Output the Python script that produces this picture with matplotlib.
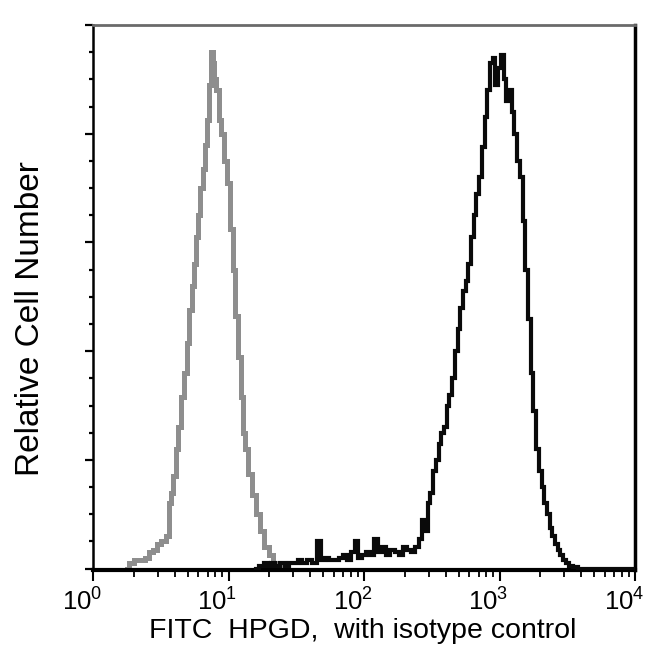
import matplotlib
matplotlib.use("Agg")
import matplotlib.pyplot as plt
import matplotlib.transforms as mtransforms
from matplotlib.ticker import LogLocator, MultipleLocator, NullFormatter, LogFormatterMathtext
import numpy as np

plt.rcParams['font.family'] = ['Liberation Sans', 'DejaVu Sans']
plt.rcParams['mathtext.fontset'] = 'custom'
plt.rcParams['mathtext.rm'] = 'Liberation Sans'
plt.rcParams['mathtext.it'] = 'Liberation Sans'

# Isotype control (gray): log10 fluorescence and counts
gray_log = [0.25, 0.28, 0.32, 0.36, 0.40, 0.43, 0.46, 0.49, 0.52, 0.55, 0.565, 0.58, 0.60,
            0.62, 0.64, 0.66, 0.68, 0.70, 0.72, 0.735, 0.75, 0.765, 0.78, 0.80, 0.82, 0.835,
            0.846, 0.86, 0.875, 0.89, 0.90, 0.92, 0.94, 0.956, 0.98, 1.00, 1.02, 1.04, 1.06,
            1.08, 1.10, 1.12, 1.13, 1.16, 1.19, 1.22, 1.25, 1.28, 1.31, 1.35, 1.40]
gray_counts = [0, 2, 3, 3, 4, 6, 7, 9, 10, 12, 24, 28, 34,
               44, 52, 63, 72, 83, 95, 104, 112, 122, 130, 140, 147, 156,
               165, 178, 190, 186, 180, 176, 165, 160, 150, 142, 125, 110, 93,
               78, 63, 50, 44, 35, 27, 20, 14, 8, 5, 2, 0.5]

# HPGD stained (black)
black_log = [1.20, 1.25, 1.28, 1.30, 1.33, 1.36, 1.40, 1.43, 1.46, 1.50, 1.53, 1.56, 1.60,
             1.63, 1.67, 1.70, 1.73, 1.76, 1.80, 1.83, 1.86, 1.89, 1.92, 1.94, 1.97, 2.00,
             2.03, 2.06, 2.09, 2.12, 2.15, 2.18, 2.21, 2.24, 2.27, 2.30, 2.33, 2.36, 2.39,
             2.42, 2.44, 2.46, 2.48, 2.50, 2.52, 2.54, 2.56, 2.58, 2.60, 2.62, 2.64, 2.66,
             2.68, 2.70, 2.72, 2.74, 2.76, 2.78, 2.80, 2.82, 2.84, 2.86, 2.88, 2.90, 2.92,
             2.94, 2.96, 2.98, 3.00, 3.02, 3.04, 3.06, 3.08, 3.10, 3.12, 3.14, 3.16, 3.18,
             3.20, 3.22, 3.24, 3.26, 3.28, 3.30, 3.32, 3.34, 3.36, 3.38, 3.40, 3.42, 3.44,
             3.46, 3.48, 3.50, 3.53, 3.56, 3.60, 4.00]
black_counts = [0, 1, 2, 1, 2, 1, 2, 1, 2, 2, 3, 2, 3,
                2, 10, 3, 4, 3, 3, 4, 5, 3, 6, 10, 4, 5,
                6, 5, 11, 6, 8, 5, 7, 6, 5, 8, 7, 6, 8,
                11, 18, 14, 24, 28, 36, 40, 46, 50, 52, 60, 64, 70,
                80, 88, 96, 102, 106, 112, 122, 130, 138, 144, 155, 166, 176,
                186, 188, 178, 184, 189, 180, 172, 176, 168, 160, 150, 144, 128,
                110, 92, 72, 58, 44, 36, 30, 24, 20, 15, 12, 9, 7,
                5, 3, 2, 1, 0.5, 0, 0]

fig = plt.figure(figsize=(6.5, 6.7), dpi=100)
ax = fig.add_axes([93/650, 1 - 570/670, (635 - 93)/650, (570 - 25)/670])

ax.plot(10 ** np.array(gray_log), gray_counts, color='#8e8e8e', lw=3.6,
        drawstyle='steps-mid', solid_joinstyle='miter', zorder=2)
ax.plot(10 ** np.array(black_log), black_counts, color='#0a0a0a', lw=3.0,
        drawstyle='steps-mid', solid_joinstyle='miter', zorder=3)

ax.set_xscale('log')
ax.set_xlim(1, 1e4)
ax.set_ylim(-0.5, 200)

ax.xaxis.set_major_locator(LogLocator(base=10, numticks=10))
ax.xaxis.set_minor_locator(LogLocator(base=10, subs=np.arange(2, 10), numticks=20))
ax.xaxis.set_minor_formatter(NullFormatter())
ax.xaxis.set_major_formatter(LogFormatterMathtext())

ax.yaxis.set_major_locator(MultipleLocator(40))
ax.yaxis.set_minor_locator(MultipleLocator(10))
ax.yaxis.set_major_formatter(NullFormatter())

ax.tick_params(axis='x', which='major', direction='out', length=8, width=1.5,
               labelsize=18.5, pad=5)
ax.tick_params(axis='x', which='minor', direction='out', length=5, width=1.3)
ax.tick_params(axis='y', which='major', direction='out', length=6, width=1.6)
ax.tick_params(axis='y', which='minor', direction='out', length=3, width=1.6)

# shift tick labels left so that "10" ends at the tick, as in the reference
offset = mtransforms.ScaledTranslation(-11 / 100, 0, fig.dpi_scale_trans)
for lbl in ax.get_xticklabels():
    lbl.set_transform(lbl.get_transform() + offset)

ax.spines['bottom'].set_linewidth(3)
ax.spines['left'].set_linewidth(1.8)
ax.spines['right'].set_linewidth(2.5)
ax.spines['top'].set_linewidth(2)
ax.spines['top'].set_color('#6a6a6a')

ax.set_xlabel('FITC  HPGD,  with isotype control', fontsize=20.5)
ax.set_ylabel('Relative Cell Number', fontsize=24)
ax.xaxis.set_label_coords(0.497, -0.088)
ax.yaxis.set_label_coords(-0.087, 0.462)

fig.savefig('out.png', dpi=100)
